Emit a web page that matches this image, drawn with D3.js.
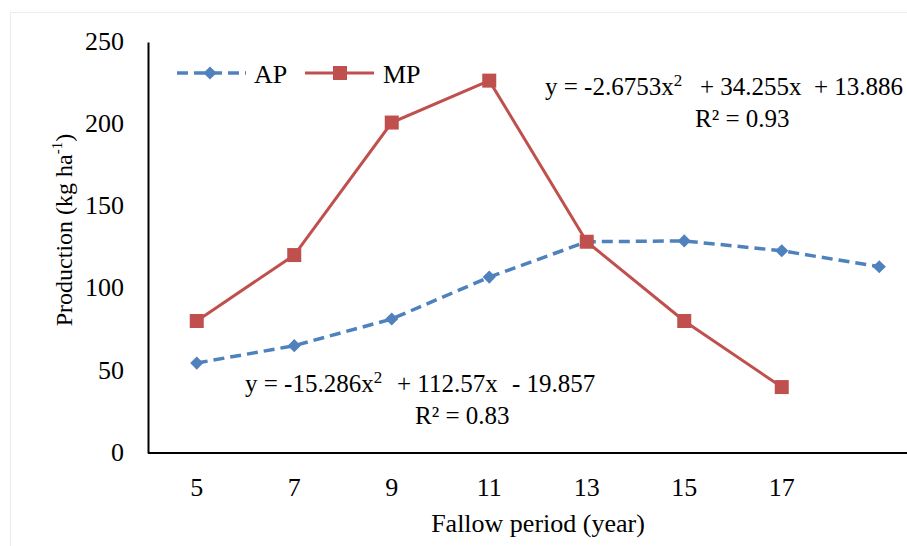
<!DOCTYPE html>
<html>
<head>
<meta charset="utf-8">
<script src="https://cdn.jsdelivr.net/npm/d3@7"></script>
<style>
  body { margin: 0; background: #fff; }
</style>
</head>
<body>
<svg width="907" height="546"></svg>
<script>
// data
const categories = ["5", "7", "9", "11", "13", "15", "17", "19"];
const tickLabels = ["5", "7", "9", "11", "13", "15", "17", ""];
const apValues = [54.7, 65.3, 81.5, 107, 128.5, 129, 123, 113.3];
const mpValues = [80.3, 120.4, 201, 226.5, 128.5, 80.3, 40.1];
const yTicks = [0, 50, 100, 150, 200, 250];
const apEquation = ["y = -15.286x", "+ 112.57x", "- 19.857", "R² = 0.83"];
const mpEquation = ["y = -2.6753x", "+ 34.255x", "+ 13.886", "R² = 0.93"];

const svg = d3.select("svg");
const blue = "#4F81BD";
const red = "#C0504D";
const serif = '"Liberation Serif"';

// faint frame of the original figure
svg.append("rect")
  .attr("x", 10.5).attr("y", 12.5)
  .attr("width", 1000).attr("height", 1000)
  .attr("fill", "none")
  .attr("stroke", "#ececec");

const x = d3.scaleBand().domain(categories).range([148, 928]);
const y = d3.scaleLinear().domain([0, 250]).range([453, 42]);
const cx = d => x(d) + x.bandwidth() / 2;

// axes
const xAxis = svg.append("g")
  .attr("transform", "translate(0,453)")
  .call(d3.axisBottom(x).tickSize(0).tickPadding(25)
    .tickFormat((d, i) => tickLabels[i]));
xAxis.select(".domain").attr("stroke", "#000").attr("stroke-width", 2).attr("d", "M148,0H928");
xAxis.selectAll("text").attr("font-size", 26).style("font-family", serif).attr("fill", "#000");

const yAxis = svg.append("g")
  .attr("transform", "translate(148,0)")
  .call(d3.axisLeft(y).tickValues(yTicks).tickSize(0).tickPadding(24));
yAxis.select(".domain").attr("stroke", "#000").attr("stroke-width", 2);
yAxis.selectAll("text").attr("font-size", 26).style("font-family", serif).attr("fill", "#000")
  .attr("dy", "0.28em");

// axis titles
svg.append("text")
  .attr("x", 538).attr("y", 532)
  .attr("text-anchor", "middle")
  .attr("font-size", 26)
  .style("font-family", serif)
  .text("Fallow period (year)");

const yTitle = svg.append("text")
  .attr("transform", "translate(72,230) rotate(-90)")
  .attr("text-anchor", "middle")
  .attr("font-size", 24)
  .style("font-family", serif);
yTitle.append("tspan").text("Production (kg ha");
yTitle.append("tspan").attr("font-size", 15).attr("dy", -10).text("-1");
yTitle.append("tspan").attr("dy", 10).text(")");

// lines
const line = d3.line().x((d, i) => cx(categories[i])).y(d => y(d));

svg.append("path")
  .datum(apValues)
  .attr("d", line)
  .attr("fill", "none")
  .attr("stroke", blue)
  .attr("stroke-width", 3.5)
  .attr("stroke-dasharray", "11,6");

svg.append("path")
  .datum(mpValues)
  .attr("d", line)
  .attr("fill", "none")
  .attr("stroke", red)
  .attr("stroke-width", 3);

// markers
svg.selectAll(".ap").data(apValues).enter().append("path")
  .attr("class", "ap")
  .attr("transform", (d, i) => `translate(${cx(categories[i])},${y(d)})`)
  .attr("d", d3.symbol(d3.symbolDiamond2, 110))
  .attr("fill", blue);

svg.selectAll(".mp").data(mpValues).enter().append("rect")
  .attr("class", "mp")
  .attr("x", (d, i) => cx(categories[i]) - 7)
  .attr("y", d => y(d) - 7)
  .attr("width", 14).attr("height", 14)
  .attr("fill", red);

// legend
const leg = svg.append("g");
leg.append("line").attr("x1", 177).attr("x2", 246).attr("y1", 73).attr("y2", 73)
  .attr("stroke", blue).attr("stroke-width", 3.5).attr("stroke-dasharray", "11,6");
leg.append("path").attr("transform", "translate(210,73)")
  .attr("d", d3.symbol(d3.symbolDiamond2, 110)).attr("fill", blue);
leg.append("text").attr("x", 254).attr("y", 83).attr("font-size", 26)
  .style("font-family", serif).text("AP");
leg.append("line").attr("x1", 305).attr("x2", 374).attr("y1", 73).attr("y2", 73)
  .attr("stroke", red).attr("stroke-width", 3);
leg.append("rect").attr("x", 333).attr("y", 66).attr("width", 14).attr("height", 14).attr("fill", red);
leg.append("text").attr("x", 383).attr("y", 83).attr("font-size", 26)
  .style("font-family", serif).text("MP");

// trendline equations: parts placed where Excel put them
function equation(parts, xs, yPos, rX) {
  const t = svg.append("text").attr("y", yPos).attr("font-size", 25)
    .style("font-family", serif);
  t.append("tspan").attr("x", xs[0]).text(parts[0]);
  t.append("tspan").attr("font-size", 17).attr("dy", -9).text("2");
  t.append("tspan").attr("x", xs[1]).attr("dy", 9).text(parts[1]);
  t.append("tspan").attr("x", xs[2]).text(parts[2]);
  svg.append("text").attr("x", rX).attr("y", yPos + 32).attr("font-size", 25)
    .style("font-family", serif).text(parts[3]);
}
equation(mpEquation, [545, 700, 814], 95, 695);
equation(apEquation, [245, 397, 512], 392, 415);
</script>
</body>
</html>
